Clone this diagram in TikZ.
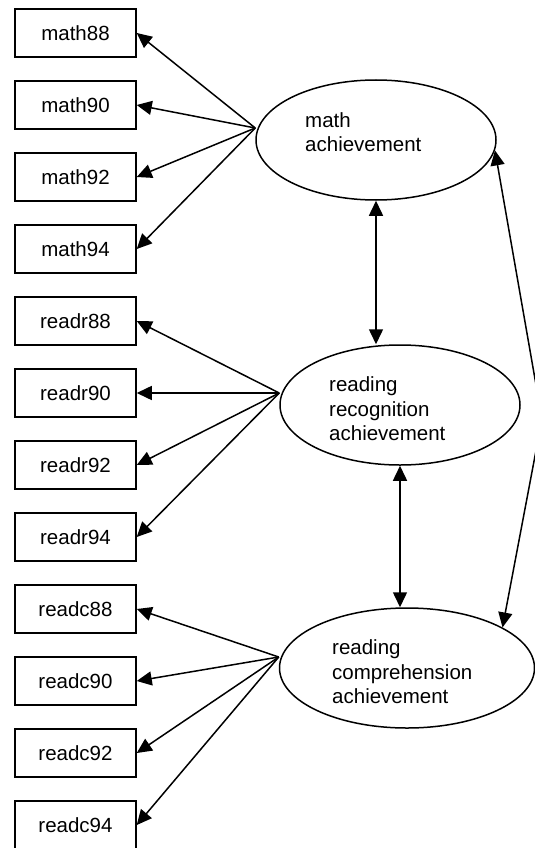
\documentclass[tikz,border=0pt]{standalone}
\usepackage{fontspec}
\setmainfont{Liberation Sans}
\usetikzlibrary{shapes.geometric, arrows.meta}

\begin{document}
\begin{tikzpicture}[x=1pt, y=-1pt,
    obs/.style={draw, line width=1.5pt, minimum width=121pt, minimum height=48pt, inner sep=0pt, font=\fontsize{20.5}{24.5}\selectfont},
    latent/.style={draw, ellipse, line width=1.5pt, inner sep=0pt, minimum height=120pt},
    lbl/.style={anchor=west, align=left, inner sep=0pt, font=\fontsize{20.5}{24.5}\selectfont},
    arr/.style={line width=1.5pt, -{Triangle[length=15pt, width=14pt]}},
    dbl/.style={line width=1.5pt, {Triangle[length=15pt, width=14pt]}-{Triangle[length=15pt, width=14pt]}}]
    \useasboundingbox (0, 0) rectangle (535, 848);

    % Observed indicators (one every 72pt)
    \foreach \i/\name in {0/math88, 1/math90, 2/math92, 3/math94,
                          4/readr88, 5/readr90, 6/readr92, 7/readr94,
                          8/readc88, 9/readc90, 10/readc92, 11/readc94} {
        \node[obs] (\name) at (75.5, 33+72*\i) {\name};
    }

    % Latent factors
    \node[latent, minimum width=240pt] (math) at (376, 140) {};
    \node[lbl] (mathtxt) at (305, 132) {math\\achievement};
    \node[latent, minimum width=240pt] (readr) at (400, 405) {};
    \node[lbl] (readrtxt) at (329, 409) {reading\\recognition\\achievement};
    \node[latent, minimum width=255pt] (readc) at (407, 668) {};
    \node[lbl] (readctxt) at (332, 672) {reading\\comprehension\\achievement};

    % Loadings
    \coordinate (mfan) at ([yshift=12pt]math.west);
    \coordinate (rfan) at ([yshift=12pt]readr.west);
    \coordinate (cfan) at ([yshift=11pt]readc.west);
    \foreach \name in {math88, math90, math92, math94}
        \draw[arr] (mfan) -- (\name.east);
    \foreach \name in {readr88, readr90, readr92, readr94}
        \draw[arr] (rfan) -- (\name.east);
    \foreach \name in {readc88, readc90, readc92, readc94}
        \draw[arr] (cfan) -- (\name.east);

    % Factor correlations
    \draw[dbl] (math.south) -- (math.south |- readr.north);
    \draw[dbl] (readr.south) -- (readr.south |- readc.north);
    \coordinate (bend) at (542, 419);
    \draw[dbl] (math.-5) -- (bend) -- (readc.23);
\end{tikzpicture}
\end{document}
